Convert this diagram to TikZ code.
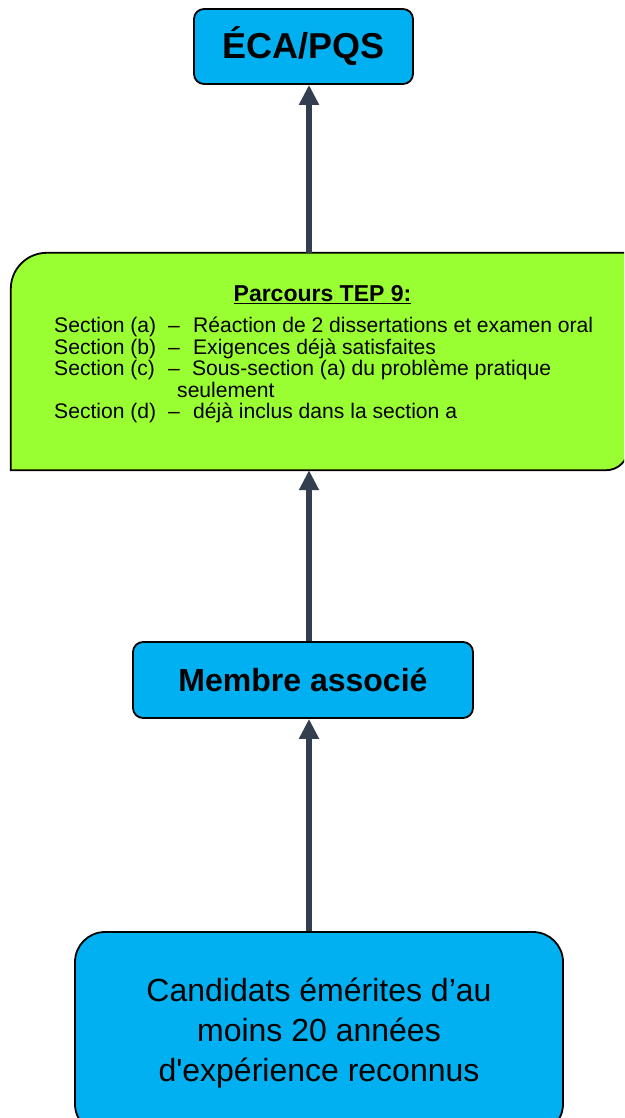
\documentclass[tikz,border=0pt]{standalone}
\usepackage{fontspec}
\setmainfont{Liberation Sans}
\newfontfamily\plainsans{Liberation Sans}
\usetikzlibrary{arrows.meta}
\definecolor{boxblue}{HTML}{00B0F0}
\definecolor{boxgreen}{HTML}{99FF33}
\definecolor{arrowgray}{HTML}{333F50}

\begin{document}
\begin{tikzpicture}[x=1pt, y=1pt,
            blue node/.style={rectangle,draw=black,line width=1.8pt,fill=boxblue,align=center,inner sep=0pt},
            green shape/.style={draw=black,line width=1.8pt,fill=boxgreen},
            flow/.style={draw=arrowgray,line width=6.5pt,-{Triangle[length=20pt,width=19pt]}}]
        \useasboundingbox (0,0) rectangle (624,-1118);
        \clip (0,0) rectangle (624,-1118);

        \node[blue node, minimum width=219pt, minimum height=75pt, rounded corners=10pt,
              font=\bfseries\fontsize{36}{40}\selectfont] (ecapqs) at (303.5,-46.5) {ÉCA/PQS};
        \node[minimum width=617pt, minimum height=217pt, inner sep=0pt] (tep) at (319.5,-361.5) {};
        \node[blue node, minimum width=340pt, minimum height=76pt, rounded corners=10pt,
              font=\bfseries\fontsize{32}{36}\selectfont] (membre) at (303,-680) {Membre associé};
        \node[blue node, minimum width=488pt, minimum height=202pt, rounded corners=30pt,
              font=\plainsans\fontsize{32}{40}\selectfont] (cands) at (319,-1033)
              {Candidats émérites d’au\\ moins 20 années\\ d'expérience reconnus};

        \path[green shape] (tep.north east) -- ([yshift=22pt]tep.south east)
            arc[start angle=0, end angle=-90, radius=22pt] -- (tep.south west)
            -- ([yshift=-36pt]tep.north west) arc[start angle=180, end angle=90, radius=36pt] -- cycle;

        \node[font=\bfseries\fontsize{23}{27}\selectfont] (teptitle) at (322.5,-295) {\underline{Parcours TEP 9:}};
        \node[anchor=north west, inner sep=0pt, align=left, font=\fontsize{21.1}{21.5}\selectfont] (teplines) at (54,-317)
            {\makebox[114pt][l]{Section (a)}\makebox[25pt][l]{–}Réaction de 2 dissertations et examen oral\\
             \makebox[114pt][l]{Section (b)}\makebox[25pt][l]{–}Exigences déjà satisfaites\\
             \makebox[114pt][l]{Section (c)}\makebox[24pt][l]{–}Sous-section (a) du problème pratique\\
             \hspace*{123pt}seulement\\
             \makebox[114pt][l]{Section (d)}\makebox[25pt][l]{–}déjà inclus dans la section a};

        \coordinate (axis) at (309,0);
        \draw[flow] (axis |- cands.north) -- (axis |- membre.south);
        \draw[flow] (axis |- membre.north) -- (axis |- tep.south);
        \draw[flow] (axis |- tep.north) -- (axis |- ecapqs.south);
\end{tikzpicture}
\end{document}
